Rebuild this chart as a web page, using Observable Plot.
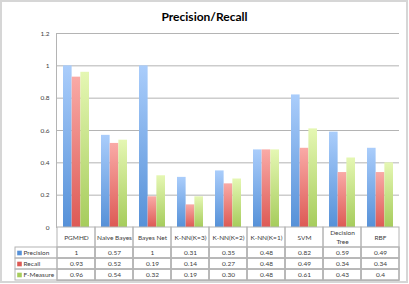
<!DOCTYPE html>
<html>
<head>
<meta charset="utf-8">
<script src="https://cdn.jsdelivr.net/npm/d3@7"></script>
<script src="https://cdn.jsdelivr.net/npm/@observablehq/plot@0.6"></script>
<style>
  html, body { margin: 0; padding: 0; background: #fff; width: 409px; height: 284px; overflow: hidden; }
  #title { position: absolute; left: 0; top: 9px; width: 409px; text-align: center; font-family: Lato, "Open Sans", sans-serif; font-weight: bold; font-size: 12px; color: #000; line-height: 16px; }
  #chart { position: absolute; left: 0; top: 0; }
  #table { position: absolute; left: 0; top: 227px; }
  #frame { position: absolute; left: 0; top: 0; width: 408px; height: 283px; box-sizing: border-box; border: 2px solid #d6d6d6; pointer-events: none; }
  svg { overflow: visible; }
</style>
</head>
<body>
<div id="title">Precision/Recall</div>
<div id="chart"></div>
<div id="table"></div>
<div id="frame"></div>
<script>
const categories = ["PGMHD", "Naive Bayes", "Bayes Net", "K-NN(K=3)", "K-NN(K=2)", "K-NN(K=1)", "SVM", "Decision Tree", "RBF"];
const seriesNames = ["Precision", "Recall", "F-Measure"];
const precision = ["1", "0.57", "1", "0.31", "0.35", "0.48", "0.82", "0.59", "0.49"];
const recall = ["0.93", "0.52", "0.19", "0.14", "0.27", "0.48", "0.49", "0.34", "0.34"];
const fMeasure = ["0.96", "0.54", "0.32", "0.19", "0.30", "0.48", "0.61", "0.43", "0.4"];
const yTicks = [0, 0.2, 0.4, 0.6, 0.8, 1, 1.2];
const colorTop = ["#aacdfb", "#f9aaa6", "#e5f7b3"];
const colorBottom = ["#5691d8", "#dd5a55", "#a6cc5c"];

const seriesValues = [precision, recall, fMeasure];
const rows = [];
seriesNames.forEach((s, i) => categories.forEach((c, j) => rows.push({series: s, si: i, cat: c, label: seriesValues[i][j], value: +seriesValues[i][j]})));

const W = 409, ML = 56, MR = 10;
const pIn = 0.316, pOut = 0.158;
const step = (W - ML - MR) / (categories.length - pIn + 2 * pOut);
const bw = step * (1 - pIn);
const grid = "#b4b4b4";
const font = {fontFamily: "Lato, 'Open Sans', sans-serif", fontSize: "6.5px", color: "#404040", background: "transparent", overflow: "visible"};

const chart = Plot.plot({
  width: W, height: 228,
  marginTop: 33, marginBottom: 1, marginLeft: ML, marginRight: MR,
  style: font,
  x: {type: "band", domain: categories, paddingInner: pIn, paddingOuter: pOut, axis: null},
  y: {domain: [0, 1.2], ticks: yTicks, tickSize: 0, tickPadding: 7, label: null, tickFormat: d => String(d)},
  marks: [
    Plot.ruleY(yTicks.filter(t => t > 0), {stroke: grid, strokeWidth: 1}),
    Plot.frame({anchor: "left", stroke: grid}),
    ...seriesNames.map((s, i) => Plot.barY(rows.filter(r => r.si === i), {
      x: "cat", y: "value", fill: `url(#grad${i})`,
      insetLeft: i * bw / 3, insetRight: (2 - i) * bw / 3
    }))
  ]
});
const defs = d3.select(chart).insert("defs", ":first-child");
seriesNames.forEach((s, i) => {
  const g = defs.append("linearGradient").attr("id", `grad${i}`).attr("x1", 0).attr("y1", 0).attr("x2", 0).attr("y2", 1);
  g.append("stop").attr("offset", "0%").attr("stop-color", colorTop[i]);
  g.append("stop").attr("offset", "100%").attr("stop-color", colorBottom[i]);
});
document.getElementById("chart").append(chart);

const table = Plot.plot({
  width: W, height: 57,
  marginTop: 19, marginBottom: 3.5, marginLeft: ML, marginRight: MR,
  style: font,
  x: {type: "band", domain: categories, padding: 0, axis: null},
  y: {type: "band", domain: seriesNames, padding: 0, axis: null},
  color: {domain: seriesNames, range: colorBottom},
  marks: [
    Plot.cell(categories, {x: d => d, stroke: grid, fill: "none", insetTop: -19}),
    Plot.cell(seriesNames, {y: d => d, stroke: grid, fill: "none", insetLeft: -41}),
    Plot.cell(rows, {x: "cat", y: "series", stroke: grid, fill: "none"}),
    Plot.text(categories, {x: d => d, frameAnchor: "top", lineAnchor: "middle", dy: -9.5, text: d => d.replace("Decision Tree", "Decision\nTree"), lineHeight: 1.35, fill: "#404040"}),
    Plot.text(rows, {x: "cat", y: "series", text: "label", fill: "#404040"}),
    Plot.dot(seriesNames, {y: d => d, frameAnchor: "left", dx: -37, symbol: "square", r: 2.6, fill: d => d}),
    Plot.text(seriesNames, {y: d => d, frameAnchor: "left", dx: -33, textAnchor: "start", text: d => d, fill: "#404040"})
  ]
});
document.getElementById("table").append(table);
</script>
</body>
</html>
